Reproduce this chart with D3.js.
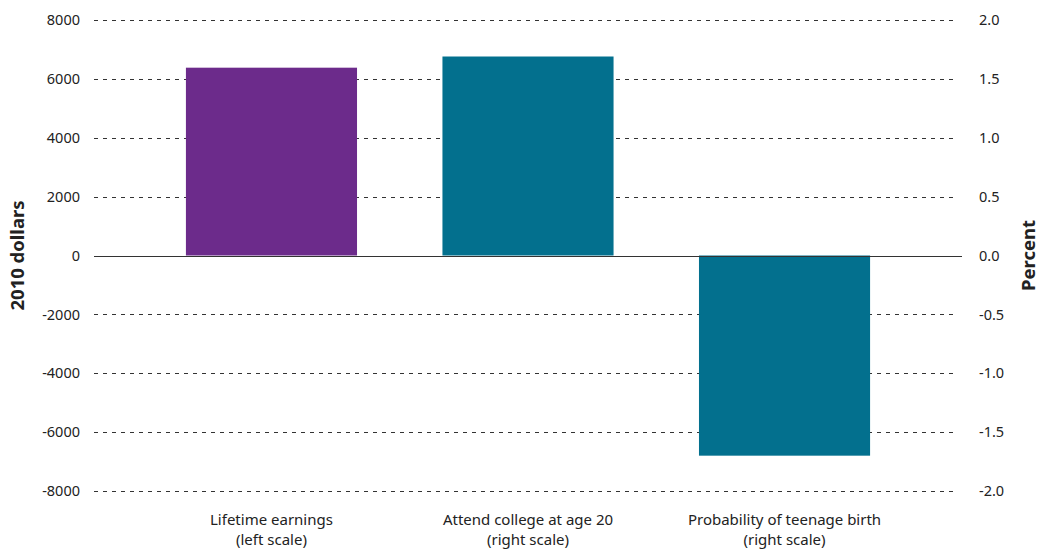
<!DOCTYPE html>
<html><head><meta charset="utf-8">
<script src="https://cdn.jsdelivr.net/npm/d3@7"></script>
<style>body{margin:0;background:#fff}svg{display:block}text{font-family:"Noto Sans",sans-serif;fill:#222}</style>
</head><body><svg id="c" width="1041" height="550"></svg>
<script>
const categories = ["Lifetime earnings", "Attend college at age 20", "Probability of teenage birth"];
const scaleNotes = ["(left scale)", "(right scale)", "(right scale)"];
const values = [6380, 1.69, -1.70];
const axisSide = ["left", "right", "right"];
const leftTicks = [-8000, -6000, -4000, -2000, 0, 2000, 4000, 6000, 8000];
const rightTicks = [-2.0, -1.5, -1.0, -0.5, 0.0, 0.5, 1.0, 1.5, 2.0];
const colors = ["#6c2b8b", "#03708e", "#03708e"];

const svg = d3.select("#c");
const yL = d3.scaleLinear().domain([-8000, 8000]).range([491, 20]);
const yR = d3.scaleLinear().domain([-2, 2]).range([491, 20]);
const x = d3.scaleBand().domain(categories).range([100.5, 955.5]).padding(0.333);
const hy = f => d => f(d).replace("\u2212", "-");

// grid
svg.append("g").selectAll("line").data(leftTicks.filter(d => d !== 0)).join("line")
  .attr("x1", 94).attr("x2", 956).attr("y1", d => Math.round(yL(d)) + 0.5).attr("y2", d => Math.round(yL(d)) + 0.5)
  .attr("stroke", "#333").attr("stroke-width", 1).attr("stroke-dasharray", "4,5");

// bars
svg.append("g").selectAll("rect").data(categories).join("rect")
  .attr("x", d => x(d)).attr("width", x.bandwidth())
  .attr("y", (d, i) => { const s = axisSide[i] === "left" ? yL : yR; return Math.min(s(values[i]), s(0)); })
  .attr("height", (d, i) => { const s = axisSide[i] === "left" ? yL : yR; return Math.abs(s(values[i]) - s(0)); })
  .attr("fill", (d, i) => colors[i]);

// zero line
svg.append("line").attr("x1", 94).attr("x2", 962).attr("y1", Math.round(yL(0)) + 0.5).attr("y2", Math.round(yL(0)) + 0.5)
  .attr("stroke", "#333").attr("stroke-width", 1);

// left axis
const la = svg.append("g").attr("transform", "translate(80,0)")
  .call(d3.axisLeft(yL).tickValues(leftTicks).tickSize(0).tickPadding(0).tickFormat(hy(d3.format("d"))));
la.select(".domain").remove();
la.selectAll("text").attr("font-size", 14.5).style("font-family", '"Noto Sans",sans-serif').attr("fill", "#222");

// right axis
const ra = svg.append("g").attr("transform", "translate(979,0)")
  .call(d3.axisRight(yR).tickValues(rightTicks).tickSize(0).tickPadding(0).tickFormat(hy(d3.format(".1f"))));
ra.select(".domain").remove();
ra.selectAll("text").attr("font-size", 14.5).style("font-family", '"Noto Sans",sans-serif').attr("fill", "#222");

// axis titles
svg.append("text").attr("transform", `translate(24,${yL(0)}) rotate(-90)`).attr("text-anchor", "middle")
  .attr("font-size", 18.5).attr("font-weight", "bold").text("2010 dollars");
svg.append("text").attr("transform", `translate(1035,${yL(0)}) rotate(-90)`).attr("text-anchor", "middle")
  .attr("font-size", 18.5).attr("font-weight", "bold").text("Percent");

// category labels
const cl = svg.append("g").selectAll("text").data(categories).join("text")
  .attr("x", d => x(d) + x.bandwidth() / 2).attr("text-anchor", "middle").attr("font-size", 15);
cl.append("tspan").attr("x", d => x(d) + x.bandwidth() / 2).attr("y", 525).text(d => d);
cl.append("tspan").attr("x", d => x(d) + x.bandwidth() / 2).attr("y", 545).text((d, i) => scaleNotes[i]);
</script></body></html>
